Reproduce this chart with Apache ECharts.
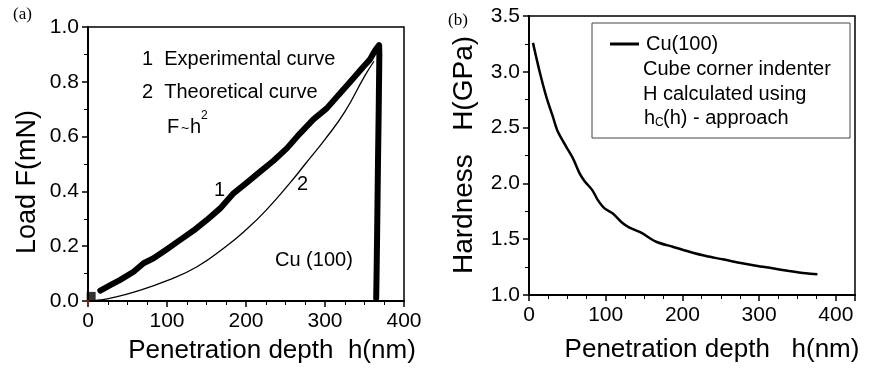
<!DOCTYPE html>
<html lang="en">
<head>
<meta charset="UTF-8">
<title>Cu(100) indentation</title>
<script src="https://cdn.jsdelivr.net/npm/echarts@6/dist/echarts.min.js"></script>
<style>
html,body{margin:0;padding:0;background:#fff;}
#chart{width:869px;height:368px;}
</style>
</head>
<body>
<div id="chart"></div>
<script type="text/javascript">
// (a) load - depth, points are [h (nm), F (mN)]
var loadCurve = [
	[15.6,0.038],[28.2,0.058],[40.8,0.077],[57.7,0.107],[70.3,0.138],[83.0,0.156],
	[99.9,0.189],[116.7,0.223],[133.6,0.257],[150.5,0.296],[167.3,0.338],[184.2,0.393],
	[201.1,0.432],[217.9,0.472],[234.8,0.512],[251.7,0.557],[268.5,0.612],[285.3,0.663],
	[302.2,0.703],[319.1,0.758],[335.9,0.813],[348.5,0.855],[356.5,0.880],[363.5,0.915],
	[368.5,0.934]
];
var unloadCurve = [[368.8,0.90],[368.0,0.70],[367.0,0.49],[366.0,0.25],[365.2,0.08],[364.8,0.01]];
var originPoint = [[4,0.015]];
var theoryCurve = [
	[0,0],[15,0.004],[30,0.011],[58,0.032],[100,0.074],[138,0.125],[175,0.2],[200,0.26],
	[225,0.33],[256,0.432],[275,0.5],[300,0.59],[325,0.69],[350,0.82],[362,0.875]
];
// (b) hardness - depth, points are [h (nm), H (GPa)]
var hardness = [
	[5.2,3.259],[13.9,3.0],[22.6,2.775],[31.2,2.596],[37.7,2.462],[48.6,2.328],[57.3,2.224],
	[66.0,2.09],[72.5,2.02],[82.5,1.94],[89.8,1.85],[98.5,1.776],[109.3,1.731],[121.5,1.647],
	[131.0,1.603],[146.2,1.558],[165.8,1.477],[187.4,1.432],[209.1,1.388],[230.8,1.349],
	[252.4,1.320],[274.2,1.289],[295.9,1.262],[317.5,1.239],[339.2,1.215],[361.0,1.194],
	[376.0,1.185]
];
var xRangeA = [0, 400], yRangeA = [0, 1.0];
var xRangeB = [0, 425], yRangeB = [1.0, 3.5];

var font = '"Liberation Sans", Arial, sans-serif';

function xAxis(grid, range) {
	return {
		type: 'value', gridIndex: grid, min: range[0], max: range[1], interval: 100,
		axisLine: {onZero: false, lineStyle: {color: '#000', width: 2}},
		axisTick: {length: 6, lineStyle: {color: '#000', width: 1.5}},
		minorTick: {show: true, splitNumber: 4, length: 4, lineStyle: {color: '#000', width: 1}},
		splitLine: {show: false},
		axisLabel: {color: '#000', fontSize: 21, fontFamily: font, margin: 10, showMaxLabel: range[1] % 100 === 0}
	};
}
function yAxis(grid, range, step, minor) {
	return {
		type: 'value', gridIndex: grid, min: range[0], max: range[1], interval: step,
		axisLine: {onZero: false, lineStyle: {color: '#000', width: 2}},
		axisTick: {length: 6, lineStyle: {color: '#000', width: 1.5}},
		minorTick: {show: true, splitNumber: minor, length: 4, lineStyle: {color: '#000', width: 1}},
		splitLine: {show: false},
		axisLabel: {color: '#000', fontSize: 21, fontFamily: font, margin: 9,
			formatter: function (v) { return v.toFixed(1); }}
	};
}
// plain text label; opts may set rotation, align and font
function txt(x, y, s, size, opts) {
	opts = opts || {};
	return {type: 'text', x: x, y: y, z: 50, rotation: opts.rotation || 0, style: {text: s, fill: '#000',
		font: size + 'px ' + (opts.family || font), textAlign: opts.align || 'left', textVerticalAlign: 'middle'}};
}

var myChart = echarts.init(document.getElementById('chart'));
myChart.setOption({
	animation: false,
	backgroundColor: '#fff',
	grid: [
		{left: 88, top: 27, width: 316, height: 274, show: true, borderColor: '#000', borderWidth: 1.5},
		{left: 529, top: 16, width: 326, height: 279, show: true, borderColor: '#000', borderWidth: 1.5}
	],
	xAxis: [xAxis(0, xRangeA), xAxis(1, xRangeB)],
	yAxis: [yAxis(0, yRangeA, 0.2, 2), yAxis(1, yRangeB, 0.5, 2)],
	legend: {
		data: ['Cu(100)'], left: 610, top: 34, padding: 0, icon: 'rect', itemWidth: 29, itemHeight: 3,
		textStyle: {color: '#000', fontSize: 20, fontFamily: font, padding: [0, 0, 0, 2]}
	},
	series: [
		{
			name: 'Experimental', type: 'line', xAxisIndex: 0, yAxisIndex: 0, symbol: 'none',
			data: loadCurve.concat(unloadCurve),
			lineStyle: {color: '#000', width: 6, join: 'round', cap: 'round'}
		},
		{
			name: 'Theoretical', type: 'line', xAxisIndex: 0, yAxisIndex: 0, symbol: 'none', smooth: true,
			data: theoryCurve, lineStyle: {color: '#000', width: 1.3}
		},
		{
			name: 'origin', type: 'scatter', xAxisIndex: 0, yAxisIndex: 0, symbol: 'rect', symbolSize: [9, 10],
			data: originPoint, itemStyle: {color: '#000'}
		},
		{
			name: 'origin0', type: 'scatter', xAxisIndex: 0, yAxisIndex: 0, symbolSize: 3, z: 10,
			data: [[0, 0]], itemStyle: {color: '#e00'}
		},
		{
			name: 'Cu(100)', type: 'line', xAxisIndex: 1, yAxisIndex: 1, symbol: 'none', smooth: 0.3,
			data: hardness, lineStyle: {color: '#000', width: 2.5}, itemStyle: {color: '#000'}
		}
	],
	graphic: [
		txt(13, 15, '(a)', 17, {family: '"Liberation Serif", serif'}),
		txt(448, 21, '(b)', 17, {family: '"Liberation Serif", serif'}),
		txt(142, 59, '1  Experimental curve', 20),
		txt(142, 92, '2  Theoretical curve', 20),
		txt(167, 127, 'F', 20),
		txt(181, 129, '~', 14),
		txt(190, 127, 'h', 20),
		txt(201, 116, '2', 12),
		txt(214, 190, '1', 20),
		txt(297, 184, '2', 20),
		txt(275, 260, 'Cu (100)', 20),
		txt(28, 182, 'Load F(mN)', 27, {rotation: Math.PI / 2, align: 'center'}),
		txt(272, 351, 'Penetration depth  h(nm)', 26, {align: 'center'}),
		txt(464, 155, 'Hardness   H(GPa)', 28, {rotation: Math.PI / 2, align: 'center'}),
		txt(712, 350, 'Penetration depth   h(nm)', 26, {align: 'center'}),
		{type: 'rect', z: 40, shape: {x: 592, y: 23, width: 258, height: 115}, style: {fill: 'none', stroke: '#444', lineWidth: 1}},
		txt(643, 69, 'Cube corner indenter', 20),
		txt(643, 94, 'H calculated using', 20),
		txt(644, 118, 'h', 20),
		txt(655, 123, 'C', 12),
		txt(663, 118, '(h) - approach', 20)
	]
});
</script>
</body>
</html>
